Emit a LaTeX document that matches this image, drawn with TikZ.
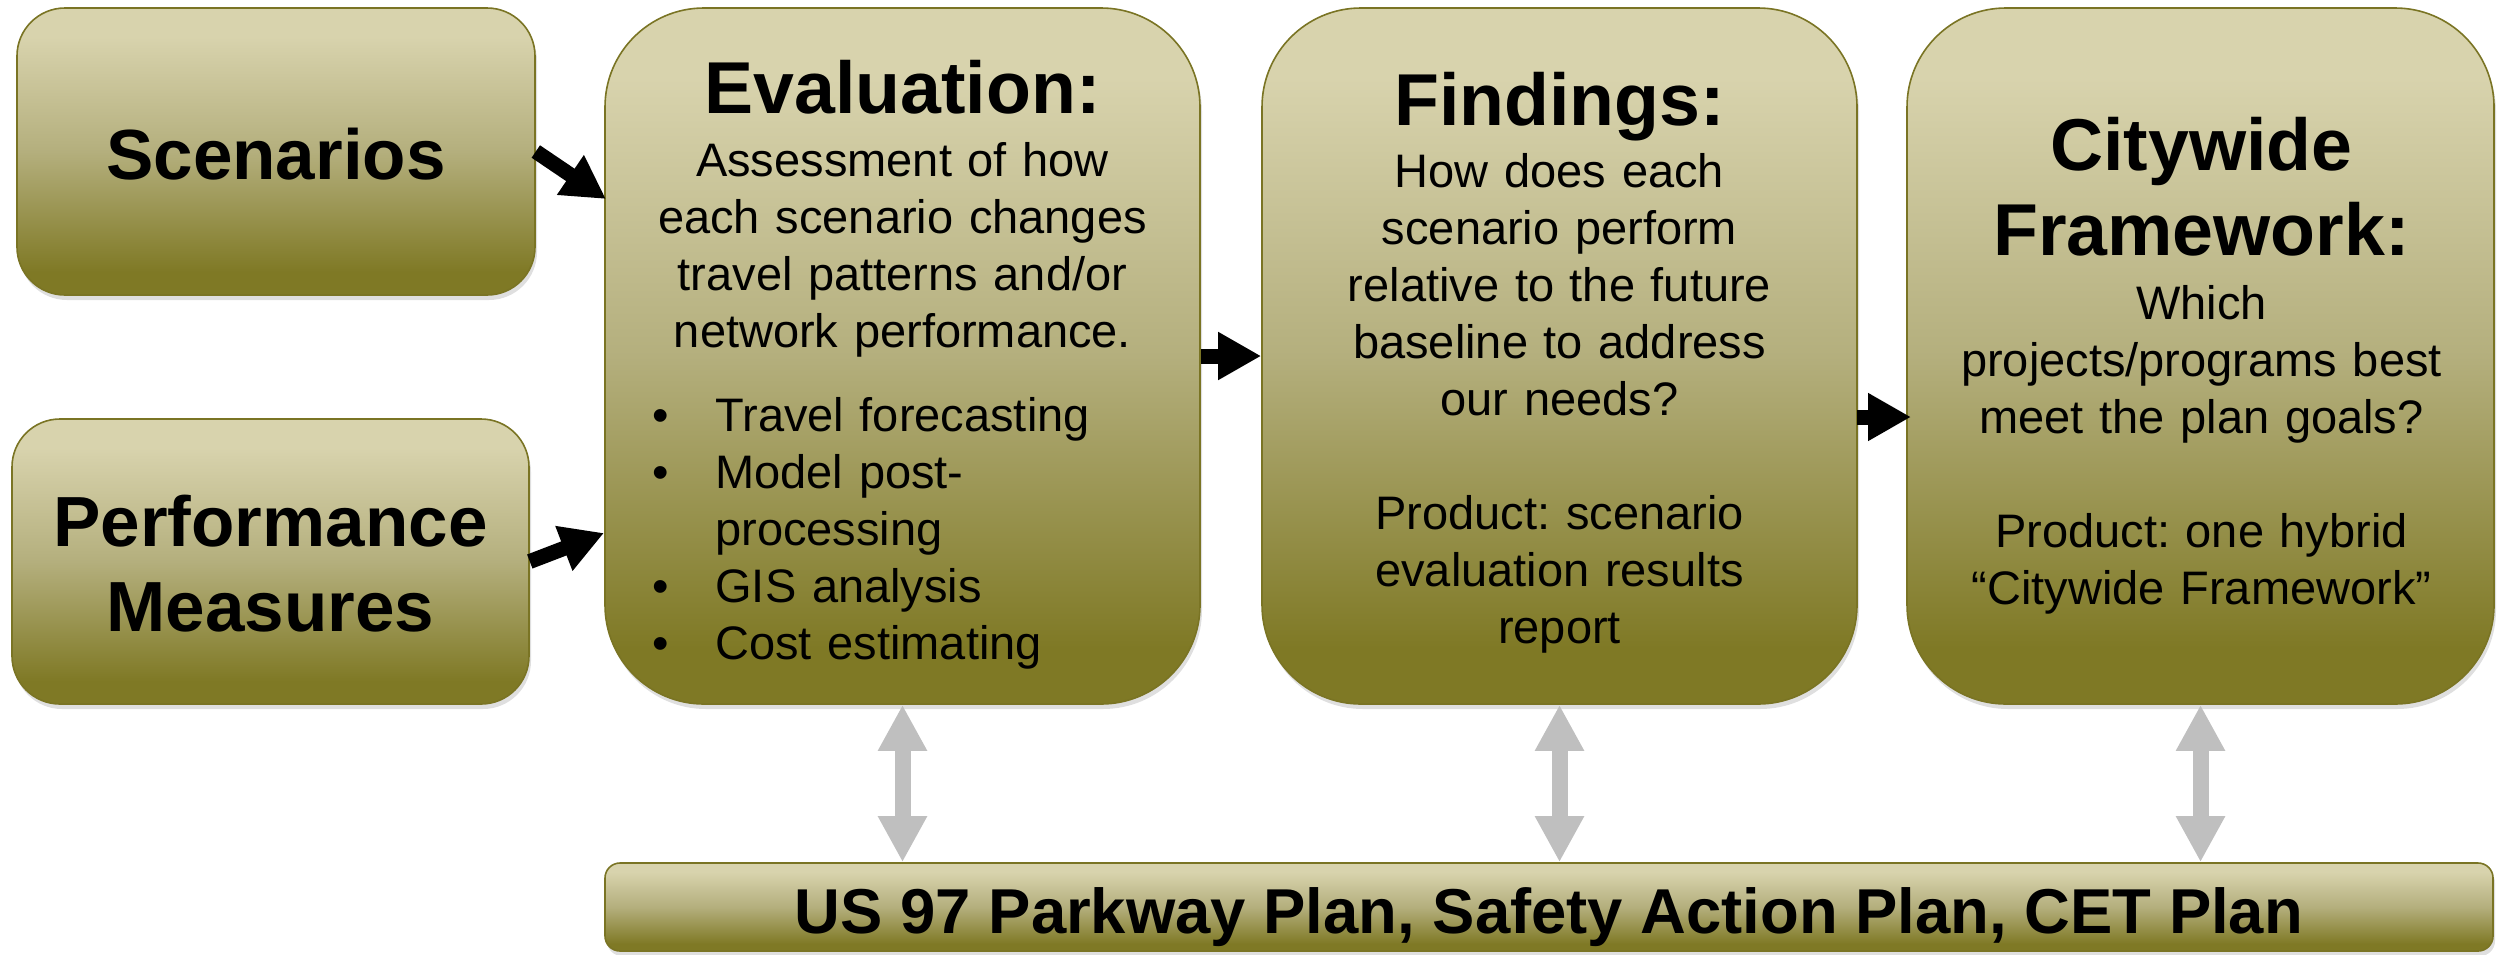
\documentclass[tikz,border=0pt]{standalone}
\usepackage{fontspec}
\setmainfont{Liberation Sans}
\usetikzlibrary{arrows.meta,shadows,calc}
\definecolor{olL}{RGB}{216,211,173}
\definecolor{olM}{RGB}{180,175,125}
\definecolor{olD}{RGB}{127,121,37}
\definecolor{olEdge}{RGB}{122,116,36}
\definecolor{greyarr}{RGB}{191,191,191}
\pgfdeclareverticalshading{olivegrad}{100bp}{color(0bp)=(olD); color(29bp)=(olD); color(50bp)=(olM); color(70bp)=(olL); color(100bp)=(olL)}
\newcommand{\bulletitem}{\leavevmode\llap{\textbullet\hspace{23pt}}}
\tikzset{
  box/.style={draw=olEdge, line width=0.8pt, shading=olivegrad,
    drop shadow={shadow xshift=1pt, shadow yshift=-2.5pt, opacity=0.25},
    inner sep=0pt},
  lbl/.style={font=\fontsize{35.5}{42.5}\selectfont\bfseries, text width=280pt, align=center, inner sep=0pt, anchor=base},
  hd/.style={font=\fontsize{36.75}{42.5}\selectfont\bfseries, text width=290pt, align=center, inner sep=0pt, anchor=base},
  bd/.style={font=\fontsize{23.5}{28.5}\selectfont\frenchspacing, text width=290pt, align=center, inner sep=0pt, anchor=base},
  bl/.style={font=\fontsize{23.5}{28.5}\selectfont, text width=240pt, align=left, inner sep=0pt, anchor=base west},
  bartext/.style={font=\fontsize{31.7}{38}\selectfont\bfseries, inner sep=0pt, anchor=base},
  blk/.style={line width=7.5pt, black, -{Triangle[length=21.5pt,width=22.5pt]}},
  garr/.style={line width=8pt, greyarr, {Triangle[length=23pt,width=23pt]}-{Triangle[length=23pt,width=23pt]}}
}
\begin{document}
\begin{tikzpicture}[x=0.5pt,y=-0.5pt]
\useasboundingbox (0,0) rectangle (2498,954);
% boxes
\node[box, minimum width=259pt, minimum height=143.5pt, rounded corners=24pt] (scen) at (276,151.5) {};
\node[box, minimum width=258.5pt, minimum height=142.5pt, rounded corners=24pt] (perf) at (270.5,561.5) {};
\node[box, minimum width=297.5pt, minimum height=348pt, rounded corners=49.5pt] (eval) at (902.5,356) {};
\node[box, minimum width=297.5pt, minimum height=348pt, rounded corners=49.5pt] (find) at (1559.5,356) {};
\node[box, minimum width=293.5pt, minimum height=348pt, rounded corners=49.5pt] (city) at (2200.5,356) {};
\node[box, minimum width=944pt, minimum height=44pt, rounded corners=7.5pt] (bar) at (1549,907) {};
% texts
\node[lbl] (scent) at (276,179) {Scenarios};
\node[lbl] (perft) at (270.5,546) {Performance\\ Measures};
\node[hd] (evalh) at (902.5,113) {Evaluation:};
\node[bd] (evalb) at (902.5,176) {Assessment of how\\ each scenario changes\\ travel patterns and/or\\ network performance.};
\node[bl] (evall) at (715,431) {\bulletitem Travel forecasting\\\bulletitem Model post-\\processing\\\bulletitem GIS analysis\\\bulletitem Cost estimating};
\node[hd] (findh) at (1559.5,125) {Findings:};
\node[bd] (findb) at (1559.5,187) {How does each\\ scenario perform\\ relative to the future\\ baseline to address\\ our needs?\\[28.5pt] Product: scenario\\ evaluation results\\ report};
\node[hd] (cityh) at (2201.5,170) {Citywide\\ Framework:};
\node[bd] (cityb) at (2201.5,319) {Which\\ projects/programs best\\ meet the plan goals?\\[28.5pt] Product: one hybrid\\ “Citywide Framework”};
\node[bartext] (bart) at (1549,933) {US 97 Parkway Plan, Safety Action Plan, CET Plan};
% connectors
\coordinate (ein1) at (606,199);
\coordinate (ein2) at (604,533);
\coordinate (fout) at (1857,417);
\coordinate (cin) at (1911,417);
\draw[blk] (scen.east) -- (ein1);
\draw[blk] (perf.east) -- (ein2);
\draw[blk] (eval.east) -- (find.west);
\draw[blk] (fout) -- (cin);
\draw[garr] (eval.south) -- (eval.south |- bar.north);
\draw[garr] (find.south) -- (find.south |- bar.north);
\draw[garr] (city.south) -- (city.south |- bar.north);
\end{tikzpicture}
\end{document}
